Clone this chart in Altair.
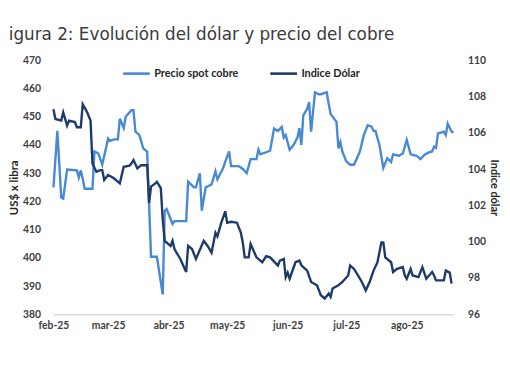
import json
import altair as alt
import pandas as pd

# ---------------- data ----------------
copper_dates = [
    "02-01", "02-03", "02-05", "02-06", "02-08", "02-13", "02-14", "02-15", "02-16", "02-17",
    "02-21", "02-22", "02-24", "02-26", "03-01", "03-02", "03-04", "03-06", "03-07", "03-09",
    "03-10", "03-13", "03-14", "03-15", "03-17", "03-19", "03-21", "03-23", "03-26", "03-29",
    "03-30", "03-31", "04-03", "04-04", "04-10", "04-11", "04-14", "04-15", "04-17", "04-18",
    "04-20", "04-23", "04-25", "04-26", "04-29", "04-30", "05-02", "05-03", "05-07", "05-09",
    "05-11", "05-13", "05-16", "05-17", "05-18", "05-22", "05-23", "05-25", "05-27", "05-29",
    "05-30", "05-31", "06-02", "06-04", "06-06", "06-07", "06-08", "06-09", "06-11", "06-12",
    "06-13", "06-15", "06-17", "06-18", "06-21", "06-22", "06-23", "06-26", "06-27", "06-28",
    "06-29", "07-01", "07-03", "07-05", "07-08", "07-10", "07-12", "07-14", "07-15", "07-16",
    "07-18", "07-20", "07-22", "07-24", "07-25", "07-28", "07-30", "08-01", "08-03", "08-06",
    "08-08", "08-10", "08-12", "08-14", "08-15", "08-16", "08-17", "08-20", "08-21", "08-22",
    "08-24", "08-25",
]
copper_values = [
    425, 445, 421.4, 421, 431.3, 431, 428.5, 431, 428, 424.5,
    424.5, 437.7, 437, 433, 442.3, 441.5, 442, 442, 449.3, 446,
    450, 452.3, 452.3, 444.7, 443.6, 438.8, 437.7, 400.4, 400.4, 387,
    416.7, 417.3, 412, 413, 413, 427, 425, 425, 430, 416.7,
    425, 426, 430.7, 427.8, 431.9, 434, 437.7, 432.5, 432.5, 431.5,
    430, 435, 435, 438.4, 436.7, 437.7, 438, 445.8, 445, 446.4,
    442.6, 443.5, 438.3, 440, 442.6, 446, 440, 450.5, 452.8, 455.2,
    444.7, 458.7, 458, 458, 458.7, 454.6, 451, 448.2, 438.8, 441,
    437.7, 434.2, 433, 433, 437.7, 443.5, 447, 446.5, 445, 445,
    440, 431.9, 435.3, 434, 436.7, 436.2, 437, 441.8, 436.7, 436.2,
    435, 436.5, 437.3, 437.7, 439.4, 439, 444.1, 444.7, 443.5, 447.6,
    444.7, 444.5,
]

dollar_dates = [
    "02-01", "02-02", "02-05", "02-06", "02-08", "02-09", "02-12", "02-13", "02-15", "02-16",
    "02-18", "02-20", "02-21", "02-23", "02-25", "02-26", "02-27", "03-01", "03-04", "03-07",
    "03-09", "03-12", "03-13", "03-14", "03-16", "03-18", "03-21", "03-22", "03-23", "03-25",
    "03-26", "03-28", "03-29", "03-30", "04-02", "04-03", "04-04", "04-07", "04-10", "04-11",
    "04-13", "04-15", "04-19", "04-21", "04-23", "04-25", "04-26", "04-28", "04-30", "05-01",
    "05-03", "05-06", "05-08", "05-09", "05-10", "05-12", "05-13", "05-16", "05-19", "05-21",
    "05-23", "05-27", "05-28", "05-30", "05-31", "06-01", "06-02", "06-05", "06-07", "06-08",
    "06-11", "06-13", "06-16", "06-18", "06-20", "06-22", "06-23", "06-24", "06-27", "06-29",
    "07-02", "07-03", "07-05", "07-07", "07-09", "07-11", "07-13", "07-15", "07-17", "07-19",
    "07-20", "07-21", "07-24", "07-25", "07-27", "07-30", "07-31", "08-01", "08-03", "08-04",
    "08-07", "08-09", "08-11", "08-14", "08-15", "08-16", "08-20", "08-21", "08-23", "08-24",
]
dollar_values = [
    107.31, 106.77, 106.68, 107.13, 106.4, 106.68, 106.6, 106.31, 106.31, 107.58,
    107.2, 106.68, 104.3, 103.86, 103.95, 103.95, 103.4, 103.68, 103.5, 103.22,
    104.13, 104.2, 104.32, 104.5, 104.04, 104.22, 104.22, 102.14, 103.04, 103.2,
    103.3, 102.95, 101.2, 100.05, 99.77, 100.05, 99.6, 99.05, 98.33, 99.77,
    99.6, 99.05, 100.05, 99.77, 99.4, 100.5, 100.3, 101.05, 101.68, 101.05,
    101.1, 101.05, 100.5, 99.96, 99.14, 99.14, 99.87, 99.14, 98.87, 99.2,
    99.14, 98.69, 98.96, 99.05, 98.05, 98.3, 97.96, 98.87, 98.96, 98.7,
    98.41, 97.78, 97.6, 97.05, 96.87, 97.14, 96.96, 97.42, 97.6, 97.78,
    98.14, 98.69, 98.5, 98.14, 97.78, 97.32, 97.78, 98.41, 98.87, 99.96,
    99.96, 99.14, 98.87, 98.33, 98.5, 98.6, 98.14, 97.96, 98.5, 98.14,
    98.05, 98.6, 97.96, 98.33, 98.14, 97.87, 97.87, 98.41, 98.3, 97.69,
]

series_names = ["Precio spot cobre", "Indice Dólar"]
series_colors = ["#4789d4", "#1c3a6a"]

month_ticks = ["2025-02-01", "2025-03-01", "2025-04-01", "2025-05-01",
               "2025-06-01", "2025-07-01", "2025-08-01"]
month_labels = ["feb-25", "mar-25", "abr-25", "may-25", "jun-25", "jul-25", "ago-25"]

left_ticks = [380, 390, 400, 410, 420, 430, 440, 450, 460, 470]
right_ticks = [96, 98, 100, 102, 104, 106, 108, 110]

title_text = "igura 2: Evolución del dólar y precio del cobre"

# ---------------- tables ----------------
copper = pd.DataFrame({
    "fecha": ["2025-" + d for d in copper_dates],
    "valor": copper_values,
    "serie": series_names[0],
})
dollar = pd.DataFrame({
    "fecha": ["2025-" + d for d in dollar_dates],
    "valor": dollar_values,
    "serie": series_names[1],
})

tick_ms = [int(pd.Timestamp(t, tz="UTC").value // 10**6) for t in month_ticks]
first_month = pd.Timestamp(month_ticks[0]).month - 1
label_expr = json.dumps(month_labels) + f"[utcmonth(datum.value) - {first_month}]"

FONT = "Lato"
TXT = "#404040"

x_enc = alt.X(
    "fecha:T",
    scale=alt.Scale(type="utc", domain=["2025-02-01", "2025-08-25"]),
    axis=alt.Axis(
        title=None, values=tick_ms, labelExpr=label_expr, ticks=False, grid=False,
        domain=True, domainColor="#d9d9d9", domainWidth=1.5,
        labelFont=FONT, labelFontWeight="bold", labelFontSize=10.5, labelColor=TXT,
        labelPadding=6, labelFlush=False, labelOverlap=False,
    ),
)

color_enc = alt.Color(
    "serie:N",
    scale=alt.Scale(domain=series_names, range=series_colors),
    legend=alt.Legend(
        title=None, orient="none", legendX=69, legendY=-2, direction="horizontal",
        symbolType="stroke", symbolSize=729, symbolStrokeWidth=2.6,
        labelFont=FONT, labelFontWeight="bold", labelFontSize=11, labelColor="#262626",
        labelOffset=3, columnPadding=26,
    ),
    sort=series_names,
)

cobre = alt.Chart(copper).mark_line(strokeWidth=2.4).encode(
    x=x_enc,
    y=alt.Y(
        "valor:Q",
        scale=alt.Scale(domain=[380, 470], nice=False, zero=False),
        axis=alt.Axis(
            title="US$ x libra", orient="left", values=left_ticks, grid=False, ticks=False,
            domain=False, labelPadding=13, titlePadding=3,
            labelFont=FONT, labelFontWeight="bold", labelFontSize=10.5, labelColor=TXT,
            titleFont=FONT, titleFontWeight="bold", titleFontSize=11.5, titleColor="#262626",
        ),
    ),
    color=color_enc,
)

dolar = alt.Chart(dollar).mark_line(strokeWidth=2.4).encode(
    x=x_enc,
    y=alt.Y(
        "valor:Q",
        scale=alt.Scale(domain=[96, 110], nice=False, zero=False),
        axis=alt.Axis(
            title="Indice dólar", orient="right", values=right_ticks, grid=False, ticks=False,
            domain=False, labelPadding=14, titlePadding=3,
            labelFont=FONT, labelFontWeight="bold", labelFontSize=10.5, labelColor=TXT,
            titleFont=FONT, titleFontWeight="bold", titleFontSize=11, titleColor="#262626",
        ),
    ),
    color=color_enc,
)

chart = (
    alt.layer(cobre, dolar)
    .resolve_scale(y="independent")
    .properties(
        width=405,
        height=257,
        padding={"left": 0, "top": 16, "right": 2, "bottom": 5},
        title=alt.TitleParams(
            text=title_text, anchor="start", frame="bounds", font="DejaVu Sans",
            fontSize=17, fontWeight="normal", color="#3b3b3b", offset=12,
        ),
    )
    .configure_view(stroke=None)
)

chart.save("out.html", embed_options={"renderer": "svg", "actions": False})
